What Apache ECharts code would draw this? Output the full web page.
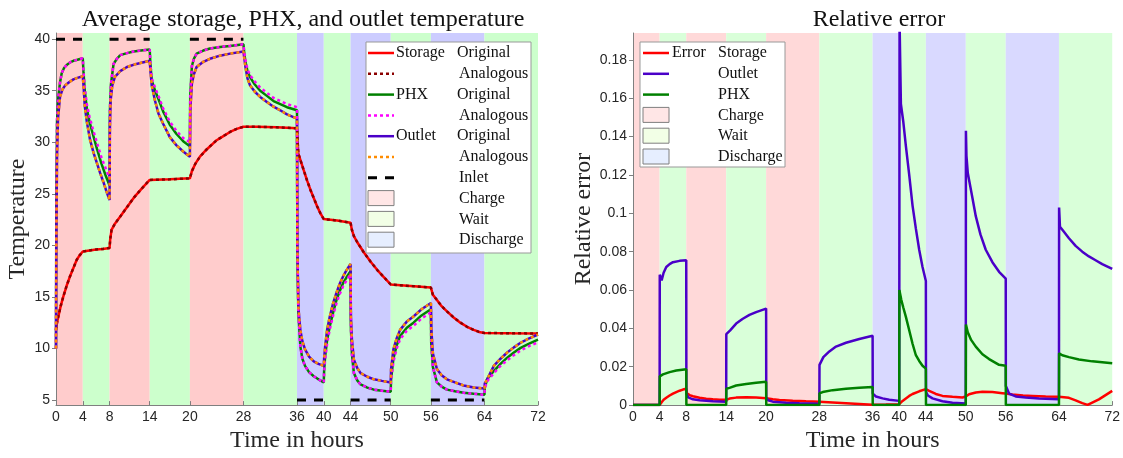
<!DOCTYPE html>
<html>
<head>
<meta charset="utf-8">
<script src="https://cdn.jsdelivr.net/npm/echarts@6/dist/echarts.min.js"></script>
<style>html,body{margin:0;padding:0;background:#fff}#c{width:1123px;height:458px}</style>
</head>
<body>
<div id="c"></div>
<script>
// ---------------- DATA ----------------
const xTicks = [0,4,8,14,20,28,36,40,44,50,56,64,72];
const tempTicks = [5,10,15,20,25,30,35,40];
const errTicks = [0,0.02,0.04,0.06,0.08,0.1,0.12,0.14,0.16,0.18];
const phaseNames = ['Charge','Wait','Discharge'];
const phases = [[0,4,0],[4,8,1],[8,14,0],[14,20,1],[20,28,0],[28,36,1],[36,40,2],[40,44,1],[44,50,2],[50,56,1],[56,64,2],[64,72,1]];
const inletSegments = [[0,4,40],[8,14,40],[20,28,40],[36,40,5],[44,50,5],[56,64,5]];

const storageOrig = [[0,11.8],[0.15,12.5],[0.35,13.1],[0.7,14.1],[1.1,15.05],[1.6,16.1],[2.1,17.0],[2.6,17.8],[3.1,18.6],[3.5,19.0],[4,19.4],
[5,19.5],[6,19.6],[7,19.65],[8,19.75],
[8.1,20.6],[8.3,21.5],[8.8,22.1],[9.6,22.8],[10.6,23.7],[11.6,24.6],[12.8,25.5],[14,26.35],
[17,26.4],[20,26.5],
[20.3,27.2],[20.8,27.9],[21.5,28.6],[22.5,29.3],[24,30.2],[25,30.6],[26,31.0],[27,31.3],[28,31.5],
[30,31.5],[33,31.45],[36,31.35],
[36.1,30.0],[36.2,28.9],[36.6,28.1],[37,27.3],[37.5,26.3],[38,25.4],[38.5,24.6],[39,23.8],[39.5,23.1],[40,22.55],
[42,22.4],[44,22.2],
[44.2,21.5],[44.5,20.9],[45,20.3],[46,19.3],[47,18.4],[48,17.6],[49,16.9],[50,16.2],
[53,16.05],[56,15.9],
[56.3,15.2],[56.9,14.7],[57.6,14.1],[58.4,13.6],[59.4,13.0],[60.4,12.5],[61.4,12.1],[62.4,11.8],[63.2,11.6],[64,11.5],
[68,11.47],[72,11.45]];

const storageAnalog = [[0,11.8],[0.15,12.5],[0.35,13.1],[0.7,14.1],[1.1,15.05],[1.6,16.1],[2.1,17.0],[2.6,17.8],[3.1,18.6],[3.5,19.0],[4,19.4],
[5,19.5],[6,19.6],[7,19.65],[8,19.75],
[8.1,20.6],[8.3,21.5],[8.8,22.1],[9.6,22.8],[10.6,23.7],[11.6,24.6],[12.8,25.5],[14,26.35],
[17,26.4],[20,26.5],
[20.3,27.2],[20.8,27.9],[21.5,28.6],[22.5,29.3],[24,30.2],[25,30.6],[26,31.0],[27,31.3],[28,31.5],
[30,31.5],[33,31.45],[36,31.35],
[36.1,30.0],[36.2,28.9],[36.6,28.1],[37,27.3],[37.5,26.3],[38,25.4],[38.5,24.6],[39,23.8],[39.5,23.1],[40,22.55],
[42,22.4],[44,22.2],
[44.2,21.5],[44.5,20.9],[45,20.3],[46,19.3],[47,18.4],[48,17.6],[49,16.9],[50,16.2],
[53,16.05],[56,15.9],
[56.3,15.2],[56.9,14.7],[57.6,14.1],[58.4,13.6],[59.4,13.0],[60.4,12.5],[61.4,12.1],[62.4,11.8],[63.2,11.6],[64,11.5],
[68,11.47],[72,11.45]];

const phxOrig = [[0,10.0],[0.05,25],[0.15,32.0],[0.35,34.4],[0.6,35.8],[0.85,36.7],[1.2,37.2],[1.6,37.5],[2.1,37.75],[2.6,37.9],[3.2,38.0],[4,38.15],
[4.1,36.9],[4.3,35.0],[4.6,33.3],[5.0,32.0],[5.5,30.8],[6.1,29.4],[6.8,27.9],[7.4,26.8],[8,25.8],
[8.05,33.0],[8.2,35.6],[8.6,37.6],[9.1,38.1],[9.6,38.45],[10.6,38.65],[11.6,38.8],[12.7,38.9],[14,39.0],
[14.1,37.6],[14.3,36.0],[14.8,35.0],[15.3,34.2],[16,33.0],[17,31.7],[18,30.8],[19,30.1],[20,29.6],
[20.05,34.5],[20.3,37.4],[20.6,38.1],[21,38.6],[22,38.9],[23,39.1],[24.5,39.25],[26,39.35],[28,39.5],
[28.1,38.8],[28.3,37.8],[28.6,36.9],[29,36.3],[29.7,35.6],[30.5,35.0],[31.5,34.5],[32.5,34.0],[33.5,33.7],[34.5,33.4],[36,33.1],
[36.05,20],[36.2,13.5],[36.5,10.2],[36.8,9.0],[37.2,8.3],[37.8,7.7],[38.5,7.3],[39.2,7.0],[40,6.7],
[40.05,7.8],[40.2,9.2],[40.5,10.8],[40.9,12.15],[41.4,13.5],[41.9,14.7],[42.4,15.6],[42.9,16.35],[43.4,16.9],[44,17.5],
[44.05,12],[44.2,9.5],[44.5,7.6],[45,6.9],[45.5,6.5],[46.5,6.2],[47.5,6.0],[48.7,5.9],[50,5.8],
[50.05,7.0],[50.4,9.0],[50.9,10.3],[51.4,11.2],[52.4,12.0],[53.4,12.5],[54.6,13.2],[56,13.8],
[56.05,10.5],[56.3,8.2],[56.9,6.7],[57.6,6.3],[58.4,6.0],[59.6,5.85],[60.9,5.7],[62.4,5.6],[64,5.5],
[64.05,6.2],[64.4,7.0],[65.4,7.8],[66.4,8.5],[67.4,9.1],[68.4,9.6],[69.4,10.05],[70.6,10.45],[72,10.85]];

const phxAnalog = [[0,10.0],[0.05,25],[0.15,32.0],[0.35,34.4],[0.6,35.8],[0.85,36.7],[1.2,37.2],[1.6,37.5],[2.1,37.75],[2.6,37.9],[3.2,38.0],[4,38.15],
[4.1,37.0],[4.3,35.3],[4.6,33.7],[5.0,32.5],[5.5,31.3],[6.1,30.0],[6.8,28.5],[7.4,27.5],[8,26.5],
[8.05,33.2],[8.2,35.6],[8.6,37.6],[9.1,38.1],[9.6,38.45],[10.6,38.65],[11.6,38.8],[12.7,38.9],[14,39.0],
[14.1,37.7],[14.3,36.2],[14.8,35.3],[15.3,34.5],[16,33.3],[17,32.0],[18,31.1],[19,30.4],[20,30.0],
[20.05,34.6],[20.3,37.4],[20.6,38.1],[21,38.6],[22,38.9],[23,39.1],[24.5,39.25],[26,39.35],[28,39.5],
[28.1,38.9],[28.3,38.0],[28.6,37.1],[29,36.5],[29.7,35.9],[30.5,35.3],[31.5,34.8],[32.5,34.3],[33.5,34.0],[34.5,33.7],[36,33.4],
[36.05,20],[36.2,13.5],[36.5,10.2],[36.8,9.0],[37.2,8.3],[37.8,7.7],[38.5,7.3],[39.2,7.0],[40,6.7],
[40.05,7.6],[40.2,8.9],[40.5,10.5],[40.9,11.85],[41.4,13.2],[41.9,14.4],[42.4,15.3],[42.9,16.05],[43.4,16.6],[44,17.2],
[44.05,12],[44.2,9.5],[44.5,7.6],[45,6.9],[45.5,6.5],[46.5,6.2],[47.5,6.0],[48.7,5.9],[50,5.8],
[50.05,6.9],[50.4,8.7],[50.9,10.0],[51.4,10.9],[52.4,11.7],[53.4,12.2],[54.6,12.9],[56,13.5],
[56.05,10.5],[56.3,8.2],[56.9,6.7],[57.6,6.3],[58.4,6.0],[59.6,5.85],[60.9,5.7],[62.4,5.6],[64,5.5],
[64.05,6.1],[64.4,6.8],[65.4,7.6],[66.4,8.3],[67.4,8.85],[68.4,9.35],[69.4,9.8],[70.6,10.2],[72,10.6]];

const outletOrig = [[0,10.0],[0.05,20],[0.15,28.5],[0.3,32.3],[0.6,34.4],[0.95,35.1],[1.35,35.5],[2,35.85],[2.6,36.1],[3.2,36.25],[4,36.4],
[4.1,35.6],[4.3,33.5],[4.6,32.0],[5.1,30.2],[5.6,29.0],[6.1,28.0],[6.6,27.0],[7.1,26.1],[7.5,25.3],[8,24.4],
[8.05,31.5],[8.15,34.0],[8.4,35.5],[8.8,36.35],[9.6,36.9],[10.6,37.3],[12,37.6],[14,37.9],
[14.1,37.0],[14.3,35.5],[14.8,34.0],[15.3,32.8],[16,31.8],[17,30.5],[18,29.7],[19,29.1],[20,28.6],
[20.05,33],[20.3,35.7],[20.6,36.6],[21,37.3],[22,37.8],[23,38.1],[24.5,38.4],[26,38.6],[28,38.8],
[28.1,38.3],[28.3,37.3],[28.6,36.2],[29,35.5],[29.7,34.9],[30.5,34.4],[31.5,33.9],[32.5,33.45],[33.5,33.1],[34.5,32.7],[36,32.3],
[36.05,20],[36.2,14],[36.5,11.8],[36.8,10.7],[37.2,9.9],[37.8,9.2],[38.5,8.75],[39.2,8.5],[40,8.3],
[40.05,9.0],[40.2,10.2],[40.5,11.8],[40.9,13.1],[41.4,14.4],[41.9,15.4],[42.4,16.3],[42.9,17.0],[43.4,17.6],[44,18.2],
[44.05,13],[44.2,10.9],[44.5,8.9],[45,8.1],[45.5,7.6],[46.5,7.25],[47.5,7.0],[48.7,6.85],[50,6.7],
[50.05,8.0],[50.4,9.9],[50.9,11.0],[51.4,11.8],[52.4,12.6],[53.4,13.1],[54.6,13.8],[56,14.4],
[56.05,12],[56.3,9.5],[56.9,8.0],[57.6,7.4],[58.4,7.0],[59.6,6.7],[60.9,6.4],[62.4,6.2],[64,6.1],
[64.05,6.6],[64.4,7.0],[65.4,8.3],[66.4,9.0],[67.4,9.6],[68.4,10.1],[69.4,10.55],[70.6,10.95],[72,11.35]];

const outletAnalog = [[0,10.0],[0.05,20],[0.15,28.5],[0.3,32.3],[0.6,34.4],[0.95,35.1],[1.35,35.5],[2,35.85],[2.6,36.1],[3.2,36.25],[4,36.4],
[4.1,35.6],[4.3,33.5],[4.6,32.0],[5.1,30.2],[5.6,29.0],[6.1,28.0],[6.6,27.0],[7.1,26.1],[7.5,25.3],[8,24.4],
[8.05,31.5],[8.15,34.0],[8.4,35.5],[8.8,36.35],[9.6,36.9],[10.6,37.3],[12,37.6],[14,37.9],
[14.1,37.0],[14.3,35.5],[14.8,34.0],[15.3,32.8],[16,31.8],[17,30.5],[18,29.7],[19,29.1],[20,28.6],
[20.05,33],[20.3,35.7],[20.6,36.6],[21,37.3],[22,37.8],[23,38.1],[24.5,38.4],[26,38.6],[28,38.8],
[28.1,38.3],[28.3,37.3],[28.6,36.2],[29,35.5],[29.7,34.9],[30.5,34.4],[31.5,33.9],[32.5,33.45],[33.5,33.1],[34.5,32.7],[36,32.3],
[36.05,20],[36.2,14],[36.5,11.8],[36.8,10.7],[37.2,9.9],[37.8,9.2],[38.5,8.75],[39.2,8.5],[40,8.3],
[40.05,9.0],[40.2,10.2],[40.5,11.8],[40.9,13.1],[41.4,14.4],[41.9,15.4],[42.4,16.3],[42.9,17.0],[43.4,17.6],[44,18.2],
[44.05,13],[44.2,10.9],[44.5,8.9],[45,8.1],[45.5,7.6],[46.5,7.25],[47.5,7.0],[48.7,6.85],[50,6.7],
[50.05,8.0],[50.4,9.9],[50.9,11.0],[51.4,11.8],[52.4,12.6],[53.4,13.1],[54.6,13.8],[56,14.4],
[56.05,12],[56.3,9.5],[56.9,8.0],[57.6,7.4],[58.4,7.0],[59.6,6.7],[60.9,6.4],[62.4,6.2],[64,6.1],
[64.05,6.6],[64.4,7.0],[65.4,8.3],[66.4,9.0],[67.4,9.6],[68.4,10.1],[69.4,10.55],[70.6,10.95],[72,11.35]];

const errStorage = [[0,0],[4,0],[4.3,0.0015],[4.6,0.0028],[5,0.0038],[5.5,0.005],[6,0.006],[6.5,0.0068],[7,0.0075],[7.5,0.0081],[8,0.0085],
[8.1,0.0062],[8.5,0.0052],[9,0.0046],[10,0.0038],[11,0.0033],[12,0.003],[13,0.0028],[14,0.0028],
[14.5,0.0034],[15.5,0.0039],[17,0.0041],[18.5,0.004],[20,0.0036],
[21,0.003],[22,0.0027],[24,0.0023],[26,0.002],[28,0.0018],
[30,0.0014],[32,0.001],[34,0.0006],[36,0.0002],[38,0.0003],[40,0.0005],
[40.5,0.0022],[41,0.0035],[41.5,0.0048],[42,0.0058],[43,0.0072],[44,0.0083],
[44.5,0.0074],[45.5,0.0058],[46.5,0.0048],[48,0.0043],[49.5,0.004],[50,0.0045],
[50.5,0.0057],[51.5,0.0066],[52.5,0.0069],[54,0.0068],[55.5,0.0062],[56,0.006],
[57,0.0055],[58.6,0.005],[60,0.0048],[62,0.0045],[64,0.0043],
[65.5,0.0038],[66.5,0.0025],[67.5,0.001],[68.3,0.0001],[69,0.0013],[70,0.003],[71,0.0052],[72,0.0074]];

const errOutlet = [[0,0],[4,0],[4.02,0.068],[4.2,0.069],[4.3,0.065],[4.6,0.069],[5,0.072],[5.5,0.0735],[6,0.0745],[7,0.0752],[8,0.0755],
[8.02,0.006],[8.3,0.004],[9,0.003],[10,0.0025],[12,0.002],[14,0.0018],
[14.02,0.037],[14.3,0.036],[14.6,0.039],[15.5,0.0425],[16.5,0.045],[17.5,0.047],[18.5,0.0485],[20,0.0503],
[20.02,0.004],[20.3,0.0025],[21,0.0018],[23,0.0012],[25,0.0009],[28,0.0007],
[28.02,0.021],[28.2,0.022],[28.6,0.025],[29.5,0.028],[30.5,0.0305],[32,0.0325],[34,0.0345],[36,0.0362],
[36.02,0.006],[36.5,0.0045],[37.5,0.0035],[38.5,0.0028],[40,0.0022],
[40.05,0.2],[40.25,0.157],[40.6,0.148],[41,0.135],[41.5,0.12],[42,0.104],[42.5,0.092],[43,0.081],[43.5,0.072],[44,0.0647],
[44.02,0.007],[44.3,0.005],[45,0.0035],[46.5,0.002],[48,0.0012],[50,0.0008],
[50.02,0.143],[50.1,0.13],[50.3,0.121],[51,0.108],[51.5,0.0985],[52.2,0.089],[53,0.081],[54,0.0745],[55,0.0695],[56,0.066],
[56.02,0.01],[56.5,0.006],[57.5,0.0045],[59,0.004],[61,0.0035],[64,0.003],
[64.02,0.103],[64.15,0.093],[64.6,0.091],[65.5,0.087],[66.5,0.083],[67.5,0.08],[68.5,0.0775],[69.5,0.0755],[70.5,0.0735],[72,0.071]];

const errPhx = [[0,0],[4,0],[4.02,0.015],[4.5,0.016],[5.5,0.0172],[6.5,0.018],[8,0.0187],
[8.02,0],[14,0],
[14.02,0.0085],[14.5,0.009],[15.5,0.0102],[17,0.011],[18.5,0.0117],[20,0.0122],
[20.02,0],[28,0],
[28.02,0.0062],[28.5,0.0068],[30,0.0078],[32,0.0085],[34,0.009],[36,0.0094],
[36.02,0],[40,0],
[40.02,0.06],[40.3,0.055],[40.6,0.051],[41,0.046],[41.5,0.039],[42,0.032],[42.5,0.026],[43,0.023],[43.5,0.0205],[44,0.019],
[44.02,0],[50,0],
[50.02,0.042],[50.3,0.038],[50.8,0.034],[51.5,0.0305],[52.5,0.0265],[53.5,0.024],[55,0.021],[56,0.0205],
[56.02,0],[64,0],
[64.02,0.027],[64.5,0.026],[65.5,0.025],[67,0.0238],[69,0.0228],[72,0.0218]];

// ---------------- STYLE ----------------
const SERIF = '"Liberation Serif", "Times New Roman", serif';
const SANS = '"Liberation Sans", Arial, sans-serif';
const leftPatch = ['#ffcccc','#ccffcc','#ccccff'];
const rightPatch = ['#ffd9d9','#d9ffd9','#d9d9ff'];
const legendPatch = ['#ffe6e6','#f2ffe6','#e6eeff'];
const C = {red:'#ff0000', darkred:'#8b0000', green:'#008000', magenta:'#ff00ff', purple:'#4a00c8', orange:'#ff8c00', black:'#000000'};

const inletData = [];
inletSegments.forEach((s, i) => {
  if (i > 0) inletData.push([s[0], null]);
  inletData.push([s[0], s[2]], [s[1], s[2]]);
});

function patchSeries(xi, colors) {
  return {
    type: 'custom', xAxisIndex: xi, yAxisIndex: xi, silent: true, z: 0,
    data: phases.map(p => [p[0], p[1], p[2]]),
    encode: {x: [0, 1]},
    clip: true,
    renderItem: function (params, api) {
      const cs = params.coordSys;
      const a = api.coord([api.value(0), 0])[0];
      const b = api.coord([api.value(1), 0])[0];
      return {type: 'rect', shape: {x: a, y: cs.y, width: b - a, height: cs.height},
              style: {fill: colors[api.value(2)]}};
    }
  };
}
function lineS(xi, data, color, width, dash, z) {
  return {type: 'line', xAxisIndex: xi, yAxisIndex: xi, data: data, showSymbol: false, symbol: 'none',
          connectNulls: false, clip: true, z: z, silent: true,
          lineStyle: {color: color, width: width, type: dash || 'solid', cap: 'butt'}};
}

const axisLineStyle = {show: true, lineStyle: {color: '#7f7f7f', width: 1}};
function xAxis(gi) {
  return {type: 'value', gridIndex: gi, min: 0, max: 72,
    name: 'Time in hours', nameLocation: 'middle', nameGap: 21,
    nameTextStyle: {fontFamily: SERIF, fontSize: 24, color: '#262626'},
    axisLine: axisLineStyle, splitLine: {show: false},
    axisTick: {show: true, inside: true, length: 4, customValues: xTicks, lineStyle: {color: '#7f7f7f'}},
    axisLabel: {customValues: xTicks, fontFamily: SANS, fontSize: 14, color: '#262626', margin: 5}};
}

const option = {
  animation: false,
  backgroundColor: '#ffffff',
  grid: [
    {left: 56, right: 1123 - 538, top: 33, bottom: 458 - 406},
    {left: 633, right: 10, top: 33, bottom: 458 - 406}
  ],
  xAxis: [xAxis(0), xAxis(1)],
  yAxis: [
    {type: 'value', gridIndex: 0, min: 4.5, max: 40.6,
     name: 'Temperature', nameLocation: 'middle', nameGap: 26,
     nameTextStyle: {fontFamily: SERIF, fontSize: 24, color: '#262626'},
     axisLine: axisLineStyle, splitLine: {show: false},
     axisTick: {show: true, inside: false, length: 4, customValues: tempTicks, lineStyle: {color: '#7f7f7f'}},
     axisLabel: {customValues: tempTicks, fontFamily: SANS, fontSize: 14, color: '#262626', margin: 6}},
    {type: 'value', gridIndex: 1, min: 0, max: 0.194,
     name: 'Relative error', nameLocation: 'middle', nameGap: 36,
     nameTextStyle: {fontFamily: SERIF, fontSize: 24, color: '#262626'},
     axisLine: axisLineStyle, splitLine: {show: false},
     axisTick: {show: true, inside: false, length: 4, customValues: errTicks, lineStyle: {color: '#7f7f7f'}},
     axisLabel: {customValues: errTicks, fontFamily: SANS, fontSize: 14, color: '#262626', margin: 6}}
  ],
  title: [
    {text: 'Average storage, PHX, and outlet temperature', left: 298, top: 3, textAlign: 'center',
     textStyle: {fontFamily: SERIF, fontSize: 24, fontWeight: 'normal', color: '#111'}},
    {text: 'Relative error', left: 874, top: 3, textAlign: 'center',
     textStyle: {fontFamily: SERIF, fontSize: 24, fontWeight: 'normal', color: '#111'}}
  ],
  series: [
    patchSeries(0, leftPatch),
    patchSeries(1, rightPatch),
    lineS(0, inletData, C.black, 3, [9, 8], 5),
    lineS(0, storageOrig, C.red, 2.5, null, 6),
    lineS(0, storageAnalog, C.darkred, 2.5, [3, 3], 7),
    lineS(0, phxOrig, C.green, 2.5, null, 6),
    lineS(0, phxAnalog, C.magenta, 2.5, [3, 3], 7),
    lineS(0, outletOrig, C.purple, 2.5, null, 6),
    lineS(0, outletAnalog, C.orange, 2.5, [3, 3], 7),
    lineS(1, errStorage, C.red, 2.5, null, 6),
    lineS(1, errOutlet, C.purple, 2.5, null, 6),
    lineS(1, errPhx, C.green, 2.5, null, 6)
  ]
};

// ---------------- LEGENDS (graphic) ----------------
const g = [];
function txt(x, y, s) {
  g.push({type: 'text', z: 100, style: {text: s, x: x, y: y, fontFamily: SERIF, fontSize: 16, fill: '#111', verticalAlign: 'middle'}});
}
function lineSample(x, y, color, dash, w) {
  g.push({type: 'line', z: 100, shape: {x1: x, y1: y, x2: x + 26, y2: y},
          style: {stroke: color, lineWidth: w || 2.5, lineDash: dash || null}});
}
function patchSample(x, y, fill) {
  g.push({type: 'rect', z: 100, shape: {x: x, y: y - 8, width: 26, height: 15},
          style: {fill: fill, stroke: '#7f7f7f', lineWidth: 1}});
}
// left legend
g.push({type: 'rect', z: 99, shape: {x: 366, y: 42, width: 165, height: 211}, style: {fill: '#fff', stroke: '#999', lineWidth: 1}});
const lx = 368, rowH = 20.8, ly0 = 53;
const leftRows = [
  ['line', C.red, null, 'Storage', 'Original'],
  ['line', C.darkred, [3, 3], '', 'Analogous'],
  ['line', C.green, null, 'PHX', 'Original'],
  ['line', C.magenta, [3, 3], '', 'Analogous'],
  ['line', C.purple, null, 'Outlet', 'Original'],
  ['line', C.orange, [3, 3], '', 'Analogous'],
  ['line', C.black, [9, 8], '', 'Inlet'],
  ['patch', legendPatch[0], null, '', phaseNames[0]],
  ['patch', legendPatch[1], null, '', phaseNames[1]],
  ['patch', legendPatch[2], null, '', phaseNames[2]]
];
leftRows.forEach((r, i) => {
  const y = ly0 + i * rowH;
  if (r[0] === 'line') lineSample(lx, y, r[1], r[2], r[1] === C.black ? 3 : 2.5);
  else patchSample(lx, y, r[1]);
  if (r[3]) txt(396, y, r[3]);
  txt(r[4] === 'Original' ? 457 : 459, y, r[4]);
});
// right legend
g.push({type: 'rect', z: 99, shape: {x: 640, y: 42, width: 145, height: 125}, style: {fill: '#fff', stroke: '#999', lineWidth: 1}});
const rightRows = [
  ['line', C.red, 'Error', 'Storage'],
  ['line', C.purple, '', 'Outlet'],
  ['line', C.green, '', 'PHX'],
  ['patch', legendPatch[0], '', phaseNames[0]],
  ['patch', legendPatch[1], '', phaseNames[1]],
  ['patch', legendPatch[2], '', phaseNames[2]]
];
rightRows.forEach((r, i) => {
  const y = 53 + i * 20.8;
  if (r[0] === 'line') lineSample(643, y, r[1], null, 2.5);
  else patchSample(643, y, r[1]);
  if (r[2]) txt(672, y, r[2]);
  txt(718, y, r[3]);
});
option.graphic = g;

const chart = echarts.init(document.getElementById('c'), null, {renderer: 'canvas'});
chart.setOption(option);
</script>
</body>
</html>
